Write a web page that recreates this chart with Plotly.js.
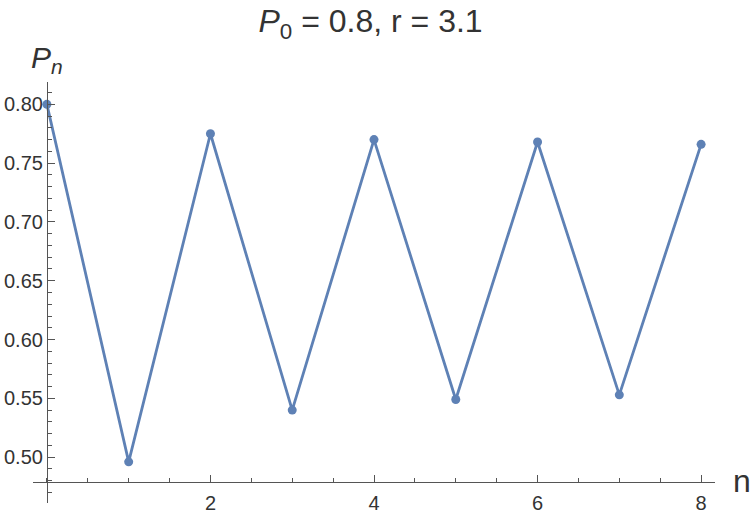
<!DOCTYPE html>
<html>
<head>
<meta charset="utf-8">
<script src="https://cdn.plot.ly/plotly-3.0.1.min.js"></script>
<style>
  html, body { margin: 0; padding: 0; background: #fff; }
  #plot { width: 750px; height: 515px; }
</style>
</head>
<body>
<div id="plot"></div>
<script>
// logistic map iterates, P0 = 0.8, r = 3.1
var n = [0, 1, 2, 3, 4, 5, 6, 7, 8];
var Pn = [0.800, 0.496, 0.775, 0.540, 0.770, 0.549, 0.768, 0.553, 0.766];

var xTicks = [2, 4, 6, 8];
var xTickText = ['2', '4', '6', '8'];

var blue = '#5E81B5';
var axisCol = '#555555';
var textCol = '#333333';
var fam = 'Liberation Sans, Arial, sans-serif';

var trace = {
  x: n,
  y: Pn,
  mode: 'lines+markers',
  type: 'scatter',
  line: { color: blue, width: 2.8 },
  marker: { color: blue, size: 9 },
  cliponaxis: false,
  hoverinfo: 'x+y'
};

var xr = [-0.17, 8.17];
var yr = [0.461, 0.819];
var xAxisPos = (0.479 - yr[0]) / (yr[1] - yr[0]);

var lay = {
  width: 750,
  height: 515,
  margin: { l: 33, r: 35, t: 82, b: 12, pad: 0 },
  paper_bgcolor: '#fff',
  plot_bgcolor: '#fff',
  showlegend: false,
  font: { family: fam, color: textCol, size: 20 },
  title: {
    text: '<i>P</i><sub>0</sub> = 0.8, r = 3.1',
    font: { family: fam, size: 32, color: textCol },
    x: 0.495, xref: 'paper', xanchor: 'center',
    y: 0.96, yanchor: 'middle'
  },
  xaxis: {
    range: xr,
    anchor: 'free',
    position: xAxisPos,
    showgrid: false,
    zeroline: false,
    showline: true,
    linecolor: axisCol,
    linewidth: 1,
    ticks: 'inside',
    ticklen: 7,
    tickcolor: axisCol,
    tickfont: { family: fam, size: 20, color: textCol },
    ticklabelstandoff: 3,
    tickmode: 'array',
    tickvals: xTicks,
    ticktext: xTickText,
    minor: { ticks: 'inside', ticklen: 4, tickcolor: axisCol, tickmode: 'linear', tick0: 0, dtick: 0.5 }
  },
  yaxis: {
    range: yr,
    anchor: 'free',
    position: (0 - xr[0]) / (xr[1] - xr[0]),
    showgrid: false,
    zeroline: false,
    showline: true,
    linecolor: axisCol,
    linewidth: 1,
    ticks: 'inside',
    ticklen: 7,
    tickcolor: axisCol,
    tickfont: { family: fam, size: 20, color: textCol },
    tick0: 0.5,
    dtick: 0.05,
    tickformat: '.2f',
    minor: { ticks: 'inside', ticklen: 4, tickcolor: axisCol, tick0: 0.5, dtick: 0.01 }
  },
  annotations: [
    {
      text: '<i>P</i><sub><i>n</i></sub>',
      xref: 'paper', yref: 'paper',
      x: 0.02, y: 1.005,
      xanchor: 'center', yanchor: 'bottom',
      showarrow: false,
      font: { family: fam, size: 30, color: textCol }
    },
    {
      text: 'n',
      xref: 'paper', yref: 'paper',
      x: 1.024, y: xAxisPos + 0.002,
      xanchor: 'left', yanchor: 'middle',
      showarrow: false,
      font: { family: fam, size: 32, color: textCol }
    }
  ]
};

Plotly.newPlot('plot', [trace], lay, { displayModeBar: false, staticPlot: true });
</script>
</body>
</html>
